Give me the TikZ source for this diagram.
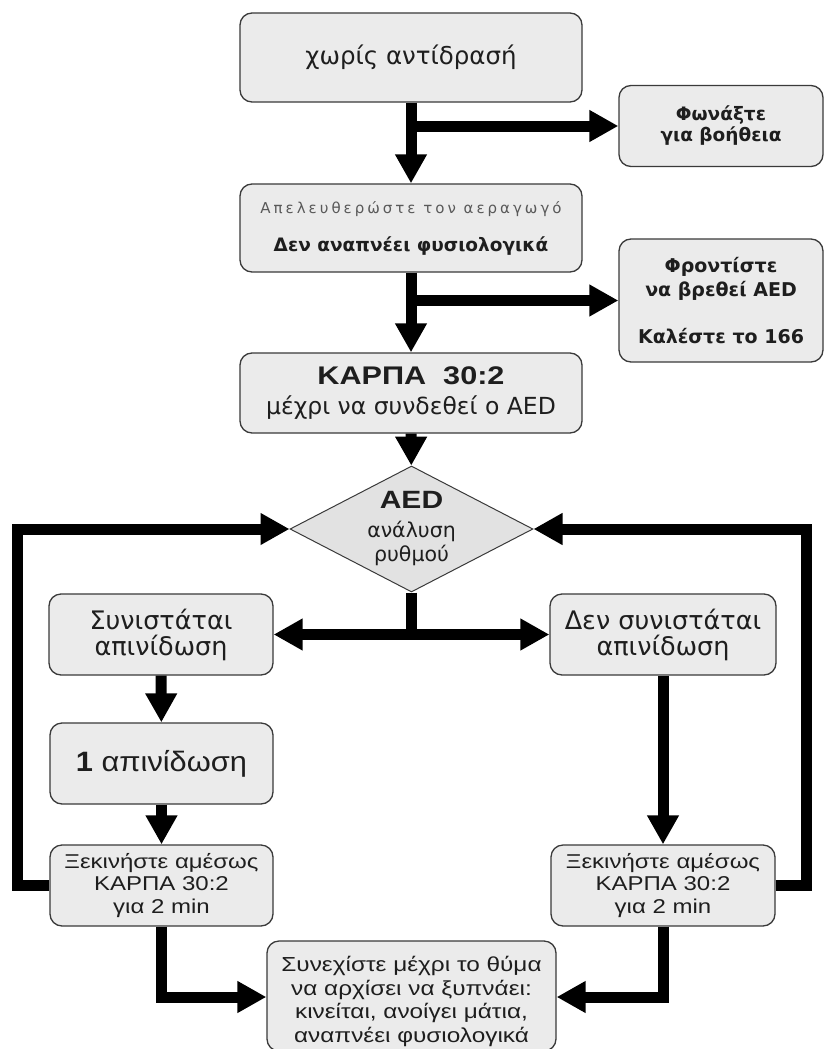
\documentclass[tikz,border=0pt]{standalone}
\usepackage{fontspec}
\setmainfont{Liberation Sans}
\newfontfamily\dv{DejaVu Sans}
\newfontfamily\dvl[LetterSpace=20]{DejaVu Sans}
\newfontfamily\ar[FakeStretch=1.1]{Liberation Sans}
\newfontfamily\arw[FakeStretch=1.2]{Liberation Sans}
\usetikzlibrary{arrows.meta,shapes.geometric}
\definecolor{boxfill}{HTML}{EBEBEB}
\definecolor{diafill}{HTML}{E2E2E2}
\definecolor{boxline}{HTML}{3A3A3A}
\definecolor{txt}{HTML}{1E1E1E}
\tikzset{
  box/.style={draw=boxline, line width=1.3pt, fill=boxfill, rounded corners=12pt,
    inner sep=0pt, align=center, text=txt},
  decbox/.style={diamond, draw=boxline, line width=1pt, fill=diafill, inner sep=0pt,
    aspect=1.93},
  lbl/.style={inner sep=0pt, align=center, text=txt},
  conn/.style={line width=11pt, draw=black, line join=miter,
    -{Triangle[length=29pt,width=30pt]}},
  plainconn/.style={line width=11pt, draw=black}
}
\begin{document}
\begin{tikzpicture}[x=1pt,y=-1pt]
\useasboundingbox (0,0) rectangle (827,1049);
\fill[white] (0,0) rectangle (827,1049);

\node[box, minimum width=342pt, minimum height=89pt,
  font=\dv\fontsize{24.5}{30}\selectfont] (A) at (411,57.5) {χωρίς αντίδρασή};
\node[box, minimum width=204pt, minimum height=81pt,
  font=\dv\bfseries\fontsize{18.5}{21}\selectfont] (B) at (721,126)
  {Φωνάξτε\\για βοήθεια};
\node[box, minimum width=342pt, minimum height=88pt,
  font=\fontsize{15}{38}\selectfont] (C) at (411,228)
  {{\dvl\color{black!65}Απελευθερώστε τον αεραγωγό}\\
   {\dv\bfseries\fontsize{18.5}{20}\selectfont Δεν αναπνέει φυσιολογικά}};
\node[box, minimum width=204pt, minimum height=123pt,
  font=\dv\bfseries\fontsize{19}{24}\selectfont] (E) at (721,300.5)
  {Φροντίστε\\να βρεθεί AED\\[23pt]Καλέστε το 166};
\node[box, minimum width=342pt, minimum height=80pt,
  font=\dv\fontsize{23.5}{30}\selectfont] (D) at (411,393)
  {{\arw\bfseries\fontsize{25.5}{30}\selectfont ΚΑΡΠΑ\ \ 30:2}\\
   μέχρι να συνδεθεί ο AED};
\node[decbox, minimum width=243pt, minimum height=126pt] (dia) at (411.5,529) {};
\node[lbl, font=\dv\fontsize{20.5}{24}\selectfont] (diatext) at (411.5,529)
  {{\arw\bfseries\fontsize{25}{24}\selectfont AED}\\[5pt]ανάλυση\\ρυθμού};
\node[box, minimum width=224pt, minimum height=81pt,
  font=\dv\fontsize{25.5}{26}\selectfont] (F) at (161,634.5)
  {Συνιστάται\\απινίδωση};
\node[box, minimum width=226pt, minimum height=81pt,
  font=\dv\fontsize{25.5}{26}\selectfont] (G) at (663,634.5)
  {Δεν συνιστάται\\απινίδωση};
\node[box, minimum width=223pt, minimum height=81pt,
  font=\ar\fontsize{28}{30}\selectfont] (H) at (161.5,763.5)
  {\textbf{1} απινίδωση};
\node[box, minimum width=223pt, minimum height=81pt,
  font=\arw\fontsize{20}{22.5}\selectfont] (I) at (161.5,885.5)
  {Ξεκινήστε αμέσως\\ΚΑΡΠΑ 30:2\\για 2 min};
\node[box, minimum width=224pt, minimum height=81pt,
  font=\arw\fontsize{20}{22.5}\selectfont] (J) at (663,885.5)
  {Ξεκινήστε αμέσως\\ΚΑΡΠΑ 30:2\\για 2 min};
\node[box, minimum width=289pt, minimum height=110pt,
  font=\arw\fontsize{20.3}{23.5}\selectfont] (K) at (411.5,996)
  {\rule{0pt}{26pt}Συνεχίστε μέχρι το θύμα\\να αρχίσει να ξυπνάει:\\κινείται, ανοίγει μάτια,\\αναπνέει φυσιολογικά};

% connectors
\draw[conn] (A) -- (C);
\draw[conn] (A.south |- B.west) -- (B.west);
\draw[conn] (C) -- (D);
\draw[conn] (C.south |- E.west) -- (E.west);
\draw[conn] (D) -- (dia);
\draw[plainconn] (dia.south) -- (dia.south |- F.east);
\draw[conn] (dia.south |- F.east) -- (F.east);
\draw[conn] (dia.south |- G.west) -- (G.west);
\draw[conn] (F) -- (H);
\draw[conn] (H) -- (I);
\draw[conn] (G) -- (J);
\draw[conn] (I.west) -- ++(-32,0) |- (dia.west);
\draw[conn] (J.east) -- ++(31,0) |- (dia.east);
\draw[conn] (I.south) |- ([yshift=-1pt]K.west);
\draw[conn] (J.south) |- ([yshift=-1pt]K.east);
\end{tikzpicture}
\end{document}
